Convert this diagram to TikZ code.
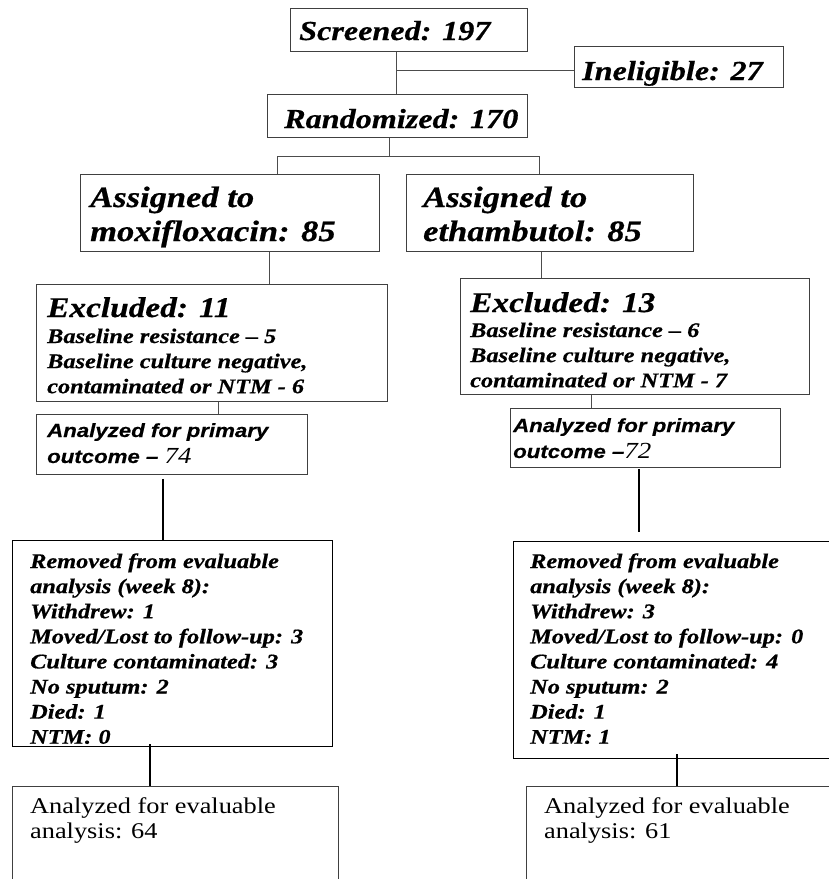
\documentclass[tikz,border=0pt]{standalone}
\usepackage{fontspec}
\setmainfont{Liberation Serif}[FakeStretch=1.17, BoldItalicFeatures={FakeBold=0.6}]
\newfontfamily\sansf{Liberation Sans}[FakeStretch=1.17, BoldItalicFeatures={FakeBold=0.4}]
\newcommand{\mlines}[1]{\begin{tabular}[t]{@{}l@{}}#1\end{tabular}}
\begin{document}
\begin{tikzpicture}[x=1pt,y=-1pt,
  box/.style={draw=black!75, line width=0.9pt, inner sep=0pt, anchor=north west},
  bbox/.style={draw=black, line width=1.3pt, inner sep=0pt, anchor=north west},
  txt/.style={inner sep=0pt, anchor=base west, text=black},
  big/.style={font=\fontsize{27.5}{31}\selectfont\bfseries\itshape},
  asg/.style={font=\fontsize{29.5}{34}\selectfont\bfseries\itshape},
  exh/.style={font=\fontsize{28.5}{33}\selectfont\bfseries\itshape},
  det/.style={font=\fontsize{20.8}{25.1}\selectfont\bfseries\itshape},
  prim/.style={font=\fontsize{19}{26}\selectfont\sansf\bfseries\itshape},
  evl/.style={font=\fontsize{22.5}{25}\selectfont},
  thin/.style={draw=black!70, line width=0.9pt},
  thick/.style={draw=black, line width=1.3pt}]
\useasboundingbox (0,0) rectangle (829,879);

% boxes
\node[box, minimum width=237pt, minimum height=43pt] (scr) at (290,8) {};
\node[box, minimum width=209pt, minimum height=41pt] (inel) at (574,46) {};
\node[box, minimum width=260pt, minimum height=43pt] (rnd) at (267,94) {};
\node[box, minimum width=299pt, minimum height=77pt] (asgM) at (80,174) {};
\node[box, minimum width=287pt, minimum height=77pt] (asgE) at (406,174) {};
\node[box, minimum width=351pt, minimum height=117pt] (excM) at (36,284) {};
\node[box, minimum width=349pt, minimum height=116pt] (excE) at (460,278) {};
\node[box, minimum width=271pt, minimum height=60pt] (priM) at (36,414) {};
\node[box, minimum width=270pt, minimum height=59pt] (priE) at (510,408) {};
\node[bbox, minimum width=320pt, minimum height=206pt] (remM) at (12,540) {};
\node[bbox, minimum width=387pt, minimum height=217pt] (remE) at (513,541) {};
\node[box, minimum width=326pt, minimum height=120pt] (evlM) at (12,786) {};
\node[box, minimum width=380pt, minimum height=120pt] (evlE) at (526,786) {};

% texts
\node[txt, big] (scrT) at (299,40) {Screened: 197};
\node[txt, big] (inelT) at (582,80) {Ineligible: 27};
\node[txt, big] (rndT) at (284,128) {Randomized: 170};
\node[txt, asg] (asgMT) at (90,207) {\mlines{Assigned to\\moxifloxacin: 85}};
\node[txt, asg] (asgET) at (423,207) {\mlines{Assigned to\\ethambutol: 85}};
\node[txt, exh] (excMH) at (47,317) {Excluded: 11};
\node[txt, det] (excMT) at (47,343) {\mlines{Baseline resistance – 5\\Baseline culture negative,\\contaminated or NTM - 6}};
\node[txt, exh] (excEH) at (470,312) {Excluded: 13};
\node[txt, det] (excET) at (470,337) {\mlines{Baseline resistance – 6\\Baseline culture negative,\\contaminated or NTM - 7}};
\node[txt, prim] (priMT) at (47,437) {\mlines{Analyzed for primary\\outcome – {\fontsize{23}{26}\selectfont\rmfamily\mdseries\itshape 74}}};
\node[txt, prim] (priET) at (513,432) {\mlines{Analyzed for primary\\outcome –{\fontsize{23}{26}\selectfont\rmfamily\mdseries\itshape 72}}};
\node[txt, det] (remMT) at (30,568) {\mlines{Removed from evaluable\\analysis (week 8):\\Withdrew: 1\\Moved/Lost to follow-up: 3\\Culture contaminated: 3\\No sputum: 2\\Died: 1\\NTM: 0}};
\node[txt, det] (remET) at (530,568) {\mlines{Removed from evaluable\\analysis (week 8):\\Withdrew: 3\\Moved/Lost to follow-up: 0\\Culture contaminated: 4\\No sputum: 2\\Died: 1\\NTM: 1}};
\node[txt, evl] (evlMT) at (30,813) {\mlines{Analyzed for evaluable\\analysis: 64}};
\node[txt, evl] (evlET) at (544,813) {\mlines{Analyzed for evaluable\\analysis: 61}};

% connectors
\coordinate (xs) at (396,0);
\coordinate (j1) at (396,70);
\draw[thin] (scr.south -| xs) -- (rnd.north -| xs);
\draw[thin] (j1) -- (j1 -| inel.west);
\coordinate (xr) at (389,0);
\coordinate (xl) at (277,156);
\coordinate (xe) at (539,156);
\draw[thin] (rnd.south -| xr) -- (xr |- xl);
\draw[thin] (asgM.north -| xl) -- (xl) -- (xe) -- (asgE.north -| xe);
\coordinate (c1) at (269,0);
\draw[thin] (asgM.south -| c1) -- (excM.north -| c1);
\coordinate (c2) at (541,0);
\draw[thin] (asgE.south -| c2) -- (excE.north -| c2);
\coordinate (c3) at (218,0);
\draw[thin] (excM.south -| c3) -- (priM.north -| c3);
\coordinate (c4) at (591,0);
\draw[thin] (excE.south -| c4) -- (priE.north -| c4);
\coordinate (c5) at (163,0);
\draw[thick] ([yshift=-4pt]priM.south -| c5) -- (remM.north -| c5);
\coordinate (c6) at (639,0);
\draw[thick] ([yshift=-1pt]priE.south -| c6) -- ([yshift=9pt]remE.north -| c6);
\coordinate (c7) at (150,0);
\draw[thick] ([yshift=3pt]remM.south -| c7) -- (evlM.north -| c7);
\coordinate (c8) at (677,0);
\draw[thick] ([yshift=5pt]remE.south -| c8) -- (evlE.north -| c8);
\end{tikzpicture}
\end{document}
